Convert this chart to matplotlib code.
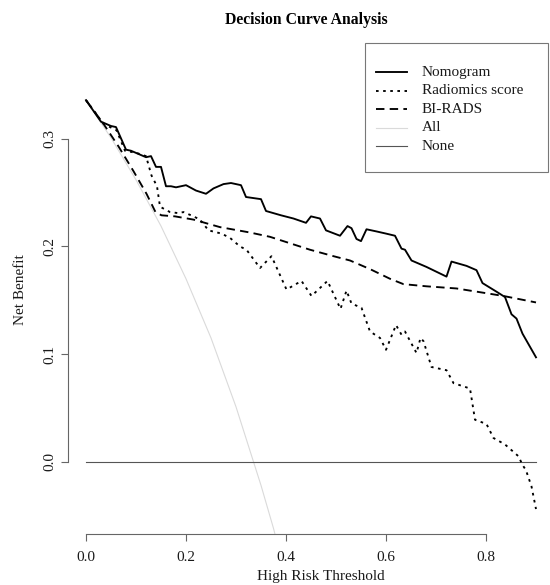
import matplotlib
matplotlib.use("Agg")
import matplotlib.pyplot as plt
from matplotlib.lines import Line2D
from matplotlib.patches import Rectangle

plt.rcParams['font.family'] = ['Liberation Serif', 'DejaVu Serif']

# thresholds / net benefit
nomo_x = [0.00, 0.03, 0.05, 0.06, 0.08, 0.09, 0.11, 0.12, 0.13, 0.14, 0.15, 0.16,
          0.17, 0.18, 0.20, 0.22, 0.24, 0.255, 0.275, 0.29, 0.31, 0.32, 0.35, 0.36,
          0.39, 0.415, 0.44, 0.45, 0.468, 0.48, 0.508, 0.523, 0.531, 0.541, 0.55,
          0.561, 0.581, 0.60, 0.618, 0.631, 0.638, 0.651, 0.681, 0.721, 0.731,
          0.761, 0.781, 0.793, 0.821, 0.838, 0.851, 0.861, 0.873, 0.90]
nomo_y = [0.336, 0.316, 0.312, 0.311, 0.290, 0.289, 0.285, 0.283, 0.284, 0.274, 0.274, 0.256,
          0.256, 0.255, 0.257, 0.252, 0.249, 0.254, 0.258, 0.259, 0.257, 0.246, 0.244, 0.233,
          0.229, 0.226, 0.222, 0.228, 0.226, 0.215, 0.210, 0.219, 0.217, 0.207, 0.205,
          0.216, 0.214, 0.212, 0.210, 0.198, 0.197, 0.187, 0.181, 0.172, 0.186,
          0.182, 0.178, 0.166, 0.158, 0.153, 0.137, 0.133, 0.119, 0.097]

rad_x = [0.00, 0.035, 0.048, 0.061, 0.078, 0.101, 0.12, 0.131, 0.142, 0.148, 0.168, 0.185,
         0.195, 0.215, 0.228, 0.245, 0.271, 0.288, 0.308, 0.321, 0.348, 0.371, 0.401,
         0.431, 0.451, 0.483, 0.509, 0.521, 0.531, 0.551, 0.568, 0.588, 0.60, 0.62,
         0.631, 0.638, 0.661, 0.669, 0.675, 0.691, 0.721, 0.735, 0.768, 0.778, 0.801,
         0.815, 0.838, 0.865, 0.873, 0.88, 0.891, 0.90]
rad_y = [0.336, 0.314, 0.311, 0.308, 0.289, 0.287, 0.284, 0.266, 0.256, 0.237, 0.232, 0.231,
         0.232, 0.228, 0.225, 0.215, 0.212, 0.208, 0.200, 0.197, 0.180, 0.191, 0.160,
         0.168, 0.154, 0.168, 0.142, 0.159, 0.147, 0.143, 0.121, 0.115, 0.104, 0.127,
         0.118, 0.121, 0.101, 0.115, 0.112, 0.088, 0.085, 0.073, 0.068, 0.039, 0.035,
         0.022, 0.016, 0.005, -0.003, -0.008, -0.023, -0.044]

birads_x = [0.00, 0.035, 0.065, 0.095, 0.121, 0.139, 0.151, 0.178, 0.215, 0.268, 0.328,
            0.368, 0.408, 0.448, 0.495, 0.528, 0.568, 0.608, 0.635, 0.681, 0.741, 0.795,
            0.835, 0.90]
birads_y = [0.336, 0.314, 0.293, 0.270, 0.249, 0.232, 0.229, 0.228, 0.225, 0.218, 0.213,
            0.209, 0.203, 0.197, 0.191, 0.187, 0.179, 0.170, 0.165, 0.163, 0.161, 0.157,
            0.154, 0.148]

all_x = [0.00, 0.05, 0.10, 0.15, 0.20, 0.25, 0.30, 0.35, 0.375, 0.40]
all_y = [0.336, 0.301, 0.262, 0.219, 0.170, 0.115, 0.051, -0.022, -0.062, -0.107]

none_x = [0.0, 0.9]
none_y = [0.0, 0.0]

labels = ["Nomogram", "Radiomics score", "BI-RADS", "All", "None"]

W, H = 550, 585
fig = plt.figure(figsize=(5.5, 5.85), dpi=100)
ax = fig.add_axes([68.3 / W, 1 - 534.3 / H, (W - 68.3) / W, (534.3 - 67.9) / H])

all_col = "#dadada"
none_col = "#555555"
ax.plot(all_x, all_y, color=all_col, lw=0.8)
ax.plot(none_x, none_y, color=none_col, lw=0.8)
ax.plot(nomo_x, nomo_y, color="black", lw=1.35)
ax.plot(rad_x, rad_y, color="black", lw=1.35, dashes=(1.4, 2.4))
ax.plot(birads_x, birads_y, color="black", lw=1.35, dashes=(4.5, 2.8))

ax.set_xlim(-0.0354, (W - 86) / 500)
ax.set_ylim(-0.0675, 0.366)

for s in ["top", "right"]:
    ax.spines[s].set_visible(False)
for s in ["left", "bottom"]:
    ax.spines[s].set_color("#666666")
    ax.spines[s].set_linewidth(0.8)
ax.spines["left"].set_bounds(0, 0.3)
ax.spines["bottom"].set_bounds(0, 0.8)

ax.set_xticks([0.0, 0.2, 0.4, 0.6, 0.8])
ax.set_yticks([0.0, 0.1, 0.2, 0.3])
ax.set_xticklabels(["0.0", "0.2", "0.4", "0.6", "0.8"])
ax.set_yticklabels(["0.0", "0.1", "0.2", "0.3"])
ax.tick_params(direction="out", length=4.7, width=0.8, color="#666666",
               labelsize=11, labelcolor="#1a1a1a")
ax.tick_params(axis="x", pad=7)
ax.tick_params(axis="y", pad=4)
plt.setp(ax.get_yticklabels(), rotation=90, va="center")

fig.text(306.7 / W, 1 - 20 / H, "Decision Curve Analysis", ha="center", va="center",
         fontsize=11.3, fontweight="bold")
fig.text(320.8 / W, 1 - 576.7 / H, "High Risk Threshold", ha="center", va="center",
         fontsize=11, color="#1a1a1a")
fig.text(20 / W, 1 - 290 / H, "Net Benefit", ha="center", va="center", rotation=90,
         fontsize=11, color="#1a1a1a")

# legend box, R style
fig.add_artist(Rectangle((364.7 / W, 1 - 171.7 / H), (548 - 364.7) / W, (171.7 - 43) / H,
                         transform=fig.transFigure, facecolor="white",
                         edgecolor="#777777", lw=0.8))
styles = [dict(color="black", lw=1.35),
          dict(color="black", lw=1.35, dashes=(1.4, 2.4)),
          dict(color="black", lw=1.35, dashes=(4.5, 2.8)),
          dict(color=all_col, lw=0.8),
          dict(color=none_col, lw=0.8)]
for i, (lab, st) in enumerate(zip(labels, styles)):
    yy = 1 - (72.3 + i * 18.45) / H
    fig.add_artist(Line2D([376 / W, 406.7 / W], [yy, yy], transform=fig.transFigure, **st))
    fig.text(421.7 / W, yy, lab, ha="left", va="center", fontsize=11, color="#1a1a1a")

fig.savefig("out.png", dpi=100)
